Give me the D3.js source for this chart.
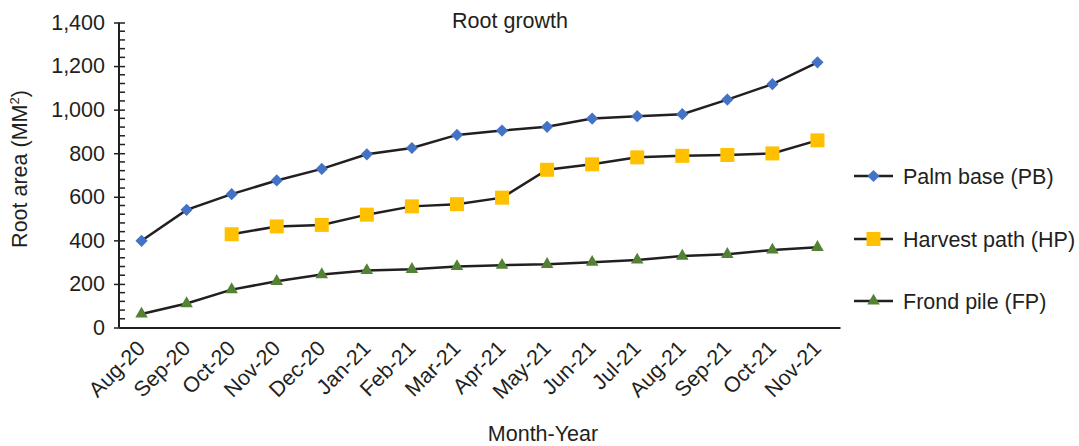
<!DOCTYPE html>
<html>
<head>
<meta charset="utf-8">
<script src="https://cdn.jsdelivr.net/npm/d3@7"></script>
<style>
  html, body { margin: 0; padding: 0; background: #fff; }
  svg { display: block; }
  text { font-family: "Liberation Sans", Arial, sans-serif; fill: #231f20; }
</style>
</head>
<body>
<svg id="chart" width="1079" height="446"></svg>
<script>
const months = ["Aug-20","Sep-20","Oct-20","Nov-20","Dec-20","Jan-21","Feb-21","Mar-21","Apr-21","May-21","Jun-21","Jul-21","Aug-21","Sep-21","Oct-21","Nov-21"];
const palmBase = [398, 540, 612, 675, 728, 795, 824, 884, 904, 921, 959, 970, 979, 1046, 1117, 1217];
const harvestPath = [null, null, 428, 464, 471, 518, 556, 566, 596, 724, 749, 781, 788, 792, 799, 859];
const frondPile = [62, 110, 174, 212, 243, 262, 267, 280, 286, 290, 300, 310, 328, 336, 356, 368];
const yTicks = [0, 200, 400, 600, 800, 1000, 1200, 1400];
const seriesNames = ["Palm base (PB)", "Harvest path (HP)", "Frond pile (FP)"];
const seriesColors = ["#4472c4", "#ffc000", "#548235"];
const seriesShapes = ["diamond", "square", "triangle"];

const series = [palmBase, harvestPath, frondPile];

const svg = d3.select("#chart");
const pLeft = 119, pRight = 840, pTop = 22.5, pBottom = 327.5;
const fs = 21.5;

const x = d3.scaleBand().domain(months).range([pLeft, pRight]).padding(0);
const cx = m => x(m) + x.bandwidth() / 2;
const y = d3.scaleLinear().domain([0, 1400]).range([pBottom, pTop]);

function symbolPath(shape) {
  if (shape === "diamond") return d3.symbol().type(d3.symbolDiamond2).size(95)();
  if (shape === "square") return d3.symbol().type(d3.symbolSquare).size(196)();
  return d3.symbol().type(d3.symbolTriangle).size(68)();
}

// Minor ticks (inside)
const minor = d3.range(0, 1401, 40).filter(v => v % 200 !== 0);
svg.append("g").selectAll("line").data(minor).join("line")
  .attr("x1", pLeft).attr("x2", pLeft + 6)
  .attr("y1", d => y(d)).attr("y2", d => y(d))
  .attr("stroke", "#231f20").attr("stroke-width", 1.5);

// Y axis
const yAxis = svg.append("g").attr("transform", `translate(${pLeft},0)`)
  .call(d3.axisLeft(y).tickValues(yTicks).tickSize(5).tickPadding(9)
    .tickFormat(d3.format(",")));
yAxis.select(".domain").attr("stroke", "#231f20").attr("stroke-width", 2).attr("d", `M0,${pTop}V${pBottom}`);
yAxis.selectAll(".tick line").attr("stroke", "#231f20").attr("stroke-width", 1.5).attr("x1", 6);
yAxis.selectAll(".tick text").attr("font-size", fs).attr("fill", "#231f20")
  .style("font-family", "'Liberation Sans', Arial, sans-serif");

// X axis
const xAxis = svg.append("g").attr("transform", `translate(0,${pBottom})`)
  .call(d3.axisBottom(x).tickSize(0).tickPadding(0));
xAxis.select(".domain").attr("stroke", "#231f20").attr("stroke-width", 2);
xAxis.selectAll(".tick text")
  .attr("font-size", fs).attr("fill", "#231f20")
  .style("font-family", "'Liberation Sans', Arial, sans-serif")
  .attr("text-anchor", "end")
  .attr("dy", 0).attr("y", 0).attr("x", 0)
  .attr("transform", "translate(5,22) rotate(-45)");

// Lines
const line = d3.line()
  .defined(d => d.v !== null)
  .x(d => cx(d.m)).y(d => y(d.v));

series.forEach((vals, i) => {
  const data = months.map((m, j) => ({ m, v: vals[j] }));
  svg.append("path").datum(data)
    .attr("d", line).attr("fill", "none")
    .attr("stroke", "#231f20").attr("stroke-width", 2.5);
  svg.append("g").selectAll("path").data(data.filter(d => d.v !== null)).join("path")
    .attr("d", symbolPath(seriesShapes[i]))
    .attr("transform", d => `translate(${cx(d.m)},${y(d.v)})`)
    .attr("fill", seriesColors[i]);
});

// Title
svg.append("text").attr("x", 510).attr("y", 28).attr("text-anchor", "middle")
  .attr("font-size", fs).text("Root growth");

// Axis titles
const yt = svg.append("text").attr("transform", "translate(27,169) rotate(-90)")
  .attr("text-anchor", "middle").attr("font-size", fs);
yt.append("tspan").text("Root area (MM");
yt.append("tspan").attr("font-size", 13).attr("dy", -8).text("2");
yt.append("tspan").attr("dy", 8).text(")");

svg.append("text").attr("x", 543).attr("y", 441).attr("text-anchor", "middle")
  .attr("font-size", fs).text("Month-Year");

// Legend
const legY = [176, 239, 301];
seriesNames.forEach((name, i) => {
  const g = svg.append("g").attr("transform", `translate(0,${legY[i]})`);
  g.append("line").attr("x1", 854).attr("x2", 893).attr("y1", 0).attr("y2", 0)
    .attr("stroke", "#231f20").attr("stroke-width", 2.5);
  g.append("path").attr("d", symbolPath(seriesShapes[i]))
    .attr("transform", "translate(873.5,0)").attr("fill", seriesColors[i]);
  g.append("text").attr("x", 903).attr("y", 7.5).attr("font-size", fs).text(name);
});
</script>
</body>
</html>
